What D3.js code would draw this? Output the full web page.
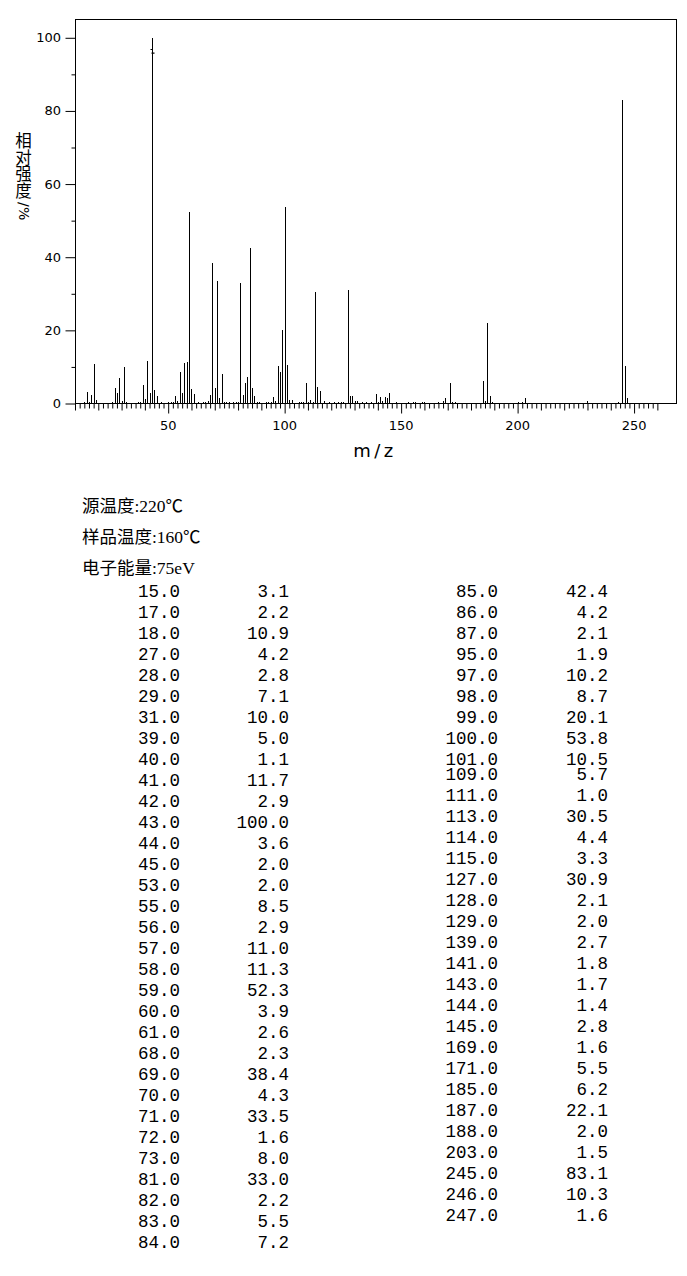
<!DOCTYPE html>
<html>
<head>
<meta charset="utf-8">
<script src="https://cdn.jsdelivr.net/npm/d3@7"></script>
<style>
  body { margin: 0; background: #fff; }
</style>
</head>
<body>
<div id="chart"></div>
<script>
// listed peaks (m/z and relative intensity, %)
var mzList = [15, 17, 18, 27, 28, 29, 31, 39, 40, 41, 42, 43, 44, 45, 53, 55, 56, 57, 58, 59, 60, 61,
  68, 69, 70, 71, 72, 73, 81, 82, 83, 84, 85, 86, 87, 95, 97, 98, 99, 100, 101, 109, 111, 113, 114,
  115, 127, 128, 129, 139, 141, 143, 144, 145, 169, 171, 185, 187, 188, 203, 245, 246, 247];
var intList = [3.1, 2.2, 10.9, 4.2, 2.8, 7.1, 10.0, 5.0, 1.1, 11.7, 2.9, 100.0, 3.6, 2.0, 2.0, 8.5,
  2.9, 11.0, 11.3, 52.3, 3.9, 2.6, 2.3, 38.4, 4.3, 33.5, 1.6, 8.0, 33.0, 2.2, 5.5, 7.2, 42.4, 4.2,
  2.1, 1.9, 10.2, 8.7, 20.1, 53.8, 10.5, 5.7, 1.0, 30.5, 4.4, 3.3, 30.9, 2.1, 2.0, 2.7, 1.8, 1.7,
  1.4, 2.8, 1.6, 5.5, 6.2, 22.1, 2.0, 1.5, 83.1, 10.3, 1.6];

// small unlisted peaks seen in the plot (< 1 %)
var smallMz = [14, 16, 19, 26, 30, 32, 37, 38, 47, 50, 51, 52, 54, 63, 65, 66, 67, 74, 75, 76, 78,
  79, 80, 88, 89, 92, 93, 94, 96, 102, 103, 106, 107, 108, 110, 112, 117, 119, 121, 123, 124, 125,
  130, 131, 133, 135, 137, 140, 142, 148, 153, 155, 156, 159, 160, 166, 168, 172, 173, 186, 189,
  200, 202, 230, 243];
var smallInt = [0.4, 0.4, 0.9, 0.5, 0.6, 0.3, 0.3, 0.4, 0.3, 0.3, 0.3, 0.4, 0.7, 0.3, 0.3, 0.4, 0.7,
  0.5, 0.3, 0.3, 0.3, 0.3, 0.3, 0.5, 0.3, 0.3, 0.4, 0.5, 0.6, 0.9, 0.9, 0.3, 0.4, 0.4, 0.4, 0.3, 0.8,
  0.3, 0.3, 0.4, 0.5, 0.5, 0.7, 0.6, 0.3, 0.3, 0.3, 0.5, 0.8, 0.3, 0.3, 0.4, 0.3, 0.3, 0.3, 0.3,
  0.6, 0.5, 0.5, 0.6, 0.4, 0.3, 0.4, 0.8, 0.4];

var yTicks = [0, 20, 40, 60, 80, 100];
var xTicks = [50, 100, 150, 200, 250];
var yTitleCjk = ["相", "对", "强", "度"];
var yTitleUnit = ["/", "%"];
var conditions = ["源温度:220℃", "样品温度:160℃", "电子能量:75eV"];

var W = 687, H = 1276;
var plot = { left: 75, right: 676, top: 19.5, bottom: 403.5 };

var svg = d3.select("#chart")
    .append("svg")
    .attr("width", W)
    .attr("height", H)
    .style("display", "block");

var x = d3.scaleLinear().domain([10, 268]).range([plot.left, plot.right]);
var y = d3.scaleLinear().domain([0, 105]).range([plot.bottom, plot.top]);

var peaks = mzList.map(function (m, i) { return { mz: m, v: intList[i] }; })
    .concat(smallMz.map(function (m, i) { return { mz: m, v: smallInt[i] }; }));

// frame
svg.append("rect")
    .attr("x", plot.left + 0.5)
    .attr("y", plot.top)
    .attr("width", plot.right - plot.left)
    .attr("height", plot.bottom - plot.top)
    .attr("fill", "none")
    .attr("stroke", "#000")
    .attr("stroke-width", 1);

// peaks
svg.append("g")
    .selectAll("line")
    .data(peaks)
    .join("line")
    .attr("x1", function (d) { return Math.round(x(d.mz)) + 0.5; })
    .attr("x2", function (d) { return Math.round(x(d.mz)) + 0.5; })
    .attr("y1", y(0))
    .attr("y2", function (d) { return y(d.v); })
    .attr("stroke", "#000")
    .attr("stroke-width", 1)
    .attr("shape-rendering", "crispEdges");

// little mark on the base peak
var bx = Math.round(x(43)) + 0.5;
svg.append("path")
    .attr("d", "M" + (bx - 2) + "," + (y(96.8)) + "H" + bx + "M" + (bx - 1) + "," + y(95.8) + "H" + (bx + 2))
    .attr("stroke", "#000")
    .attr("stroke-width", 1.2)
    .attr("fill", "none");

// x axis ticks: every 2, longer every 10, longest every 50
var xMinor = d3.range(10, 261, 2);
var axisX = svg.append("g")
    .attr("transform", "translate(0," + plot.bottom + ")")
    .call(d3.axisBottom(x).tickValues(xMinor)
        .tickSize(5).tickSizeOuter(0).tickFormat(""));
axisX.select(".domain").remove();
axisX.selectAll(".tick line")
    .attr("y2", function (d) { return d % 50 === 0 ? 10 : (d % 10 === 0 ? 7 : 5); });

svg.append("g")
    .selectAll("text")
    .data(xTicks)
    .join("text")
    .attr("x", function (d) { return x(d); })
    .attr("y", 430)
    .attr("text-anchor", "middle")
    .attr("font-family", "DejaVu Sans, sans-serif")
    .attr("font-size", 13)
    .text(function (d) { return d; });

// y axis ticks: every 10, labels every 20
var axisY = svg.append("g")
    .attr("transform", "translate(" + (plot.left + 0.5) + ",0)")
    .call(d3.axisLeft(y).tickValues(d3.range(0, 101, 10))
        .tickSize(4).tickSizeOuter(0).tickFormat(""));
axisY.select(".domain").remove();
axisY.selectAll(".tick line")
    .attr("x2", function (d) { return d % 20 === 0 ? -10 : -4; });

svg.append("g")
    .selectAll("text")
    .data(yTicks)
    .join("text")
    .attr("x", 61)
    .attr("y", function (d) { return y(d) + 4.5; })
    .attr("text-anchor", "end")
    .attr("font-family", "DejaVu Sans, sans-serif")
    .attr("font-size", 13)
    .text(function (d) { return d; });

// y title: one text, upright CJK glyphs stacked, unit glyphs turned sideways
var yTitle = svg.append("text")
    .attr("font-family", "Noto Sans CJK SC, sans-serif")
    .attr("font-size", 16.5);
yTitle.append("tspan")
    .attr("x", yTitleCjk.map(function () { return 15.3; }).join(" "))
    .attr("y", yTitleCjk.map(function (d, i) { return 147 + i * 16.7; }).join(" "))
    .text(yTitleCjk.join(""));
yTitle.append("tspan")
    .attr("x", "18.5 18.5")
    .attr("y", "202 207")
    .attr("rotate", 90)
    .attr("font-family", "DejaVu Sans, sans-serif")
    .attr("font-size", 14)
    .text(yTitleUnit.join(""));

svg.append("text")
    .attr("x", 375)
    .attr("y", 457)
    .attr("text-anchor", "middle")
    .attr("font-family", "DejaVu Sans, sans-serif")
    .attr("font-size", 18)
    .attr("letter-spacing", 3.5)
    .text("m/z");

// conditions
svg.append("g")
    .selectAll("text")
    .data(conditions)
    .join("text")
    .attr("x", 82)
    .attr("y", function (d, i) { return 512 + i * 31; })
    .attr("font-family", "Liberation Serif, Noto Sans CJK SC, serif")
    .attr("font-size", 17.5)
    .text(function (d) { return d; });

// peak table, two blocks
var nLeft = 32;
var rowY = d3.scaleLinear().domain([0, 1]).range([597, 618]);
var cols = [
    { start: 0, end: nLeft, mzX: 180, vX: 289, shiftFrom: 99, shift: 0 },
    { start: nLeft, end: mzList.length, mzX: 498, vX: 608, shiftFrom: 9, shift: -6 }
];

var table = svg.append("g")
    .attr("font-family", "Liberation Mono, monospace")
    .attr("font-size", 17.5)
    .attr("text-anchor", "end");

cols.forEach(function (c) {
    var rows = d3.range(c.start, c.end);
    var g = table.append("g");
    var ry = function (i) {
        var k = i - c.start;
        return rowY(k) + (k >= c.shiftFrom ? c.shift : 0);
    };
    g.selectAll(".mz")
        .data(rows)
        .join("text")
        .attr("class", "mz")
        .attr("x", c.mzX)
        .attr("y", ry)
        .text(function (i) { return mzList[i].toFixed(1); });
    g.selectAll(".iv")
        .data(rows)
        .join("text")
        .attr("class", "iv")
        .attr("x", c.vX)
        .attr("y", ry)
        .text(function (i) { return intList[i].toFixed(1); });
});
</script>
</body>
</html>
